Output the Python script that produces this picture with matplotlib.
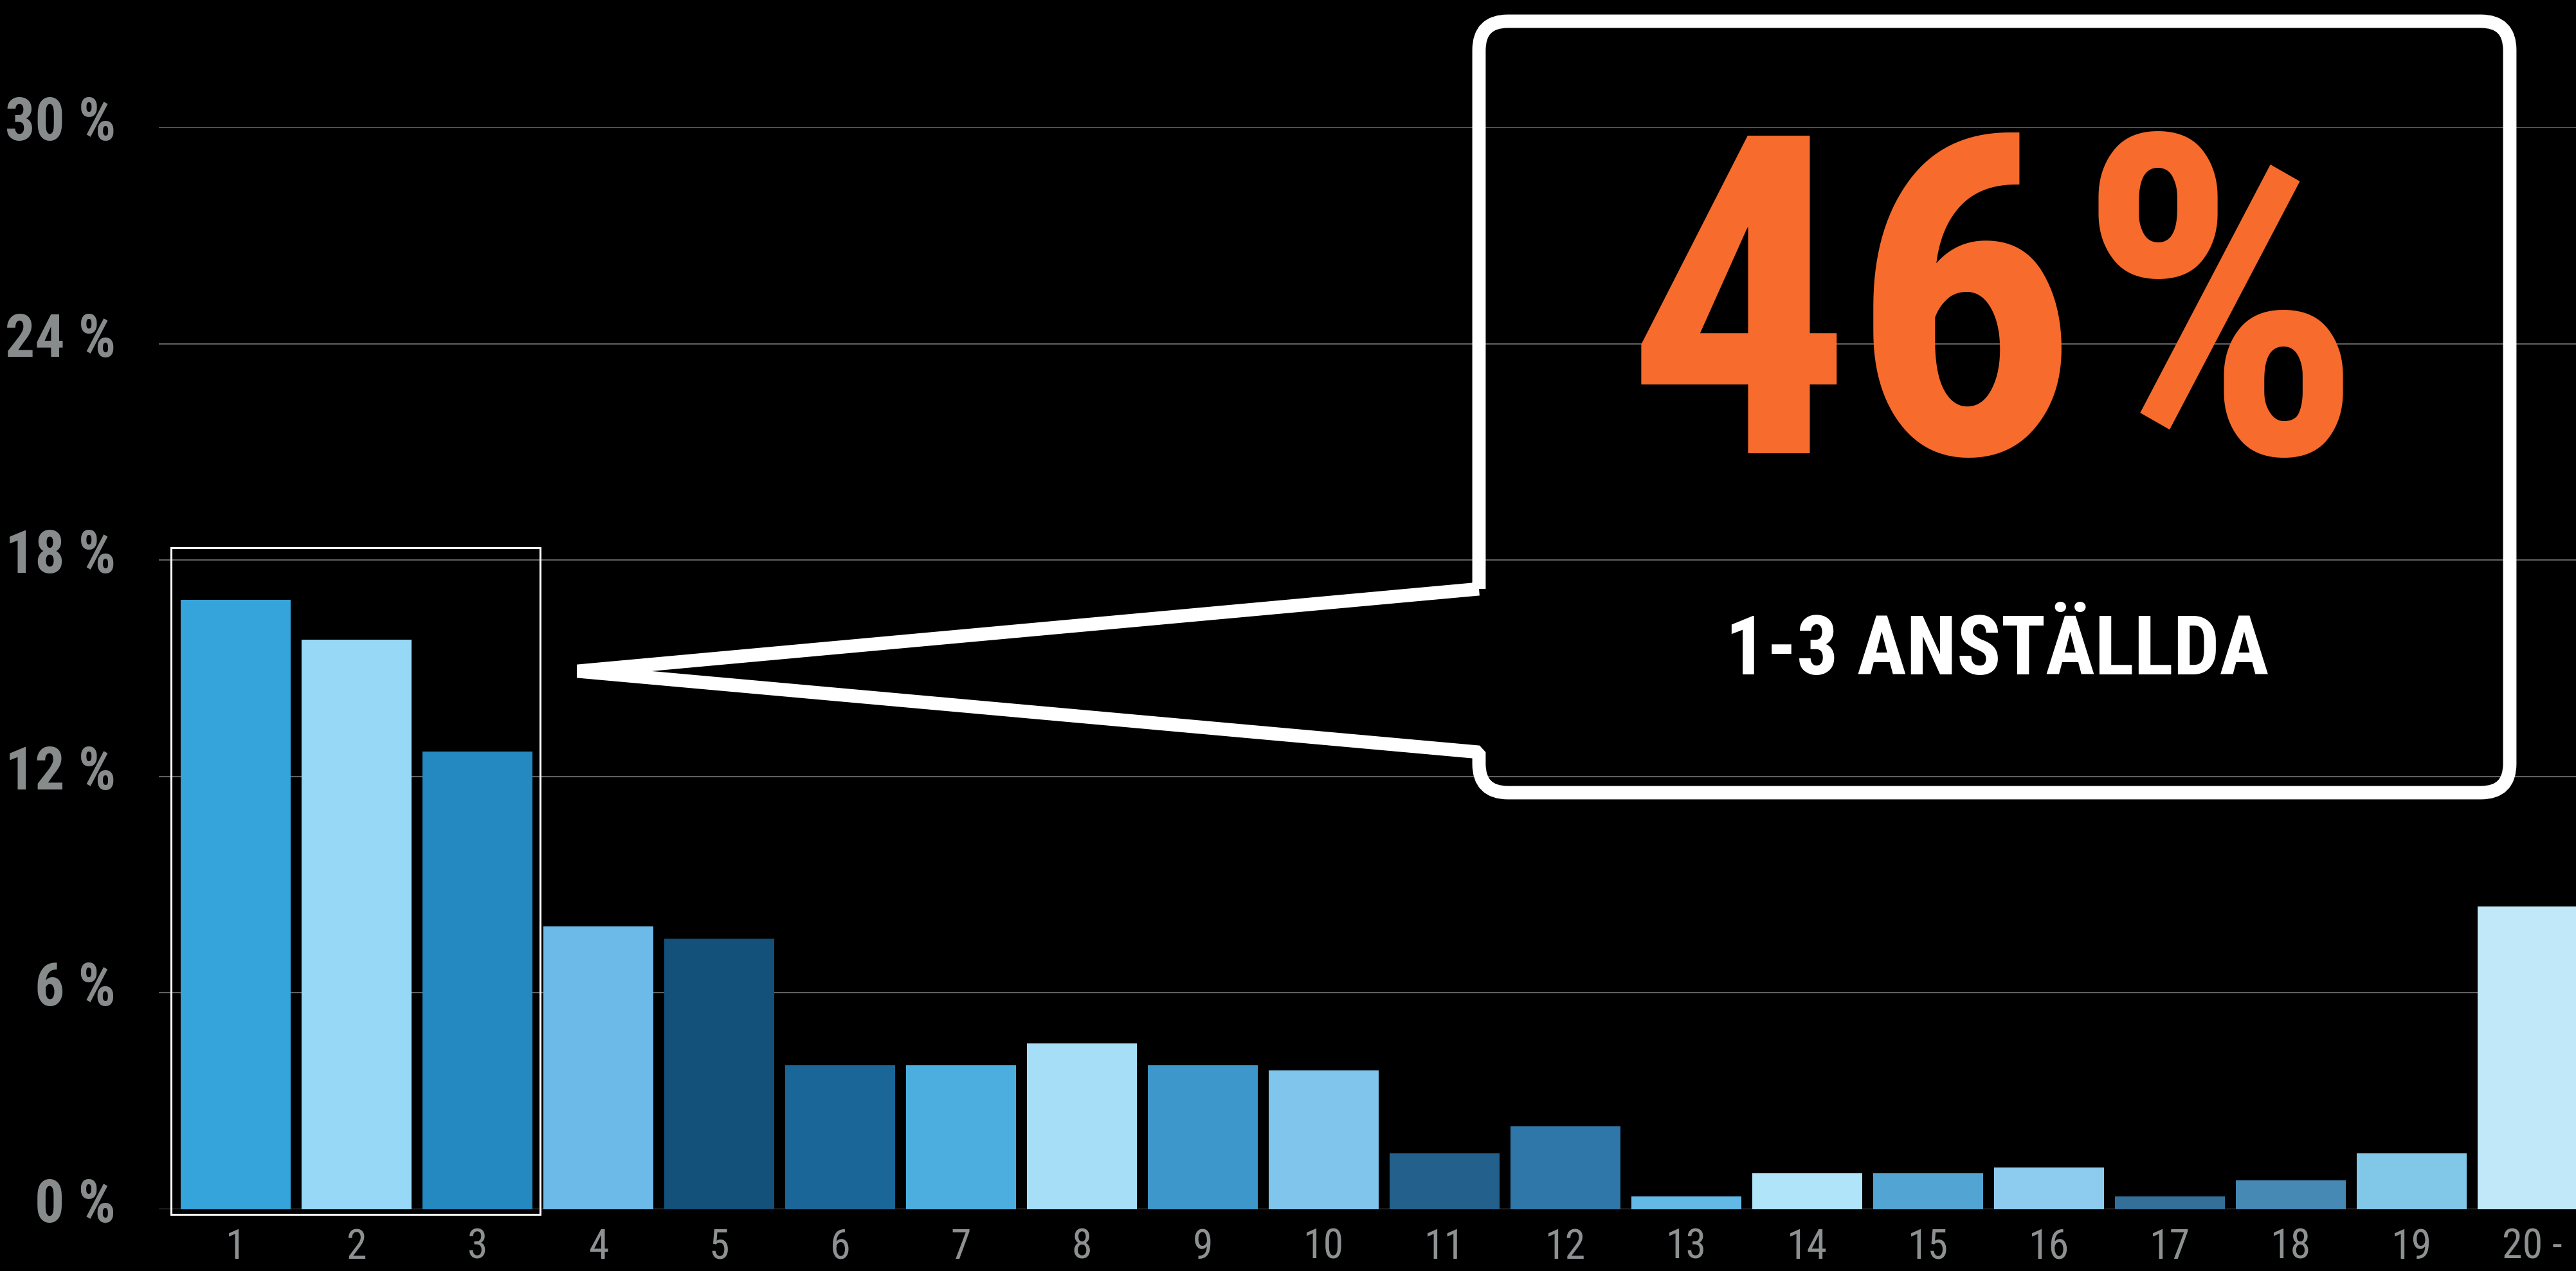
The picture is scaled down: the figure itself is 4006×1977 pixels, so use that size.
import numpy as np
import matplotlib.pyplot as plt
from matplotlib.path import Path
from matplotlib.patches import PathPatch, Rectangle
import matplotlib.transforms as mtransforms

# data
labels = ['1', '2', '3', '4', '5', '6', '7', '8', '9', '10',
          '11', '12', '13', '14', '15', '16', '17', '18', '19', '20 -']
values = [16.9, 15.8, 12.7, 7.85, 7.5, 4.0, 4.0, 4.6, 4.0, 3.85,
          1.55, 2.3, 0.35, 1.0, 1.0, 1.15, 0.35, 0.8, 1.55, 8.4]
colors = ['#35a4da', '#96d8f5', '#2489c0', '#6bbae8', '#13507a',
          '#1a6699', '#4caedf', '#a6def7', '#3e97ca', '#7fc5ec',
          '#23618c', '#2f77a8', '#63b9e5', '#b0e4f8', '#52a5d3',
          '#8eccef', '#336f99', '#4689b4', '#80c7e8', '#c1e8f8']
yticks = [0, 6, 12, 18, 24, 30]
ytick_labels = ['0 %', '6 %', '12 %', '18 %', '24 %', '30 %']
highlight_first, highlight_last = 0, 2
big_number = '46%'
caption = '1-3 ANSTÄLLDA'

plt.rcParams['font.family'] = ['Roboto Condensed', 'Roboto', 'DejaVu Sans']

W, H = 4006, 1977
fig = plt.figure(figsize=(W / 100, H / 100), dpi=100, facecolor='black')
ax = fig.add_axes([247 / W, 96 / H, 1 - 247 / W, 1683 / H])
ax.set_facecolor('black')

x = np.arange(len(values))
ax.bar(x, values, width=0.91, color=colors, zorder=2)
ax.set_xlim(-0.636, 19.36)
ax.set_ylim(0, 30)

ax.set_axisbelow(True)
ax.yaxis.grid(True, color='#606060', lw=1.5)
ax.axhline(0, color='#585858', lw=2.0, zorder=1)
for s in ax.spines.values():
    s.set_visible(False)

ax.set_yticks(yticks)
ax.set_yticklabels(ytick_labels, fontsize=66, fontweight='bold', color='#888b8c')
ax.set_xticks(x)
ax.set_xticklabels(labels, fontsize=46, color='#8e9192')
ax.tick_params(axis='y', length=0, pad=48)
ax.tick_params(axis='x', length=0, pad=20)
up = mtransforms.ScaledTranslation(0, 15 / 100, fig.dpi_scale_trans)
for t in ax.get_yticklabels():
    t.set_transform(t.get_transform() + up)

# box around the first three bars
x0 = highlight_first - 0.455 - 0.08
x1 = highlight_last + 0.455 + 0.065
ax.add_patch(Rectangle((x0, -0.14), x1 - x0, 18.48, fill=False,
                       edgecolor='white', lw=2.2, clip_on=False, zorder=3))

# callout bubble (pixel coords from top-left)
L, R, T, B, r = 2300, 3903, 33, 1233, 45
tip = (898, 1044)
pts = [(L, 916), tip, (L, 1170), (L, B - r), (L, B), (L + r, B),
       (R - r, B), (R, B), (R, B - r), (R, T + r), (R, T), (R - r, T),
       (L + r, T), (L, T), (L, T + r), (L, 916)]
codes = [Path.MOVETO, Path.LINETO, Path.LINETO, Path.LINETO,
         Path.CURVE3, Path.CURVE3, Path.LINETO, Path.CURVE3, Path.CURVE3,
         Path.LINETO, Path.CURVE3, Path.CURVE3, Path.LINETO,
         Path.CURVE3, Path.CURVE3, Path.LINETO]
verts = [(px / W, 1 - py / H) for px, py in pts]
fig.patches.append(PathPatch(Path(verts, codes), fill=False, edgecolor='white',
                             lw=15, joinstyle='bevel', transform=fig.transFigure,
                             figure=fig))

fig.text(3102 / W, 1 - 705 / H, big_number, ha='center', va='baseline',
         fontsize=500, fontweight='bold', color='#f76b2c', zorder=0)
fig.text(3106 / W, 1 - 1049 / H, caption, ha='center', va='baseline',
         fontsize=92, fontweight='bold', color='white')

fig.savefig('out.png', dpi=100, facecolor='black')
